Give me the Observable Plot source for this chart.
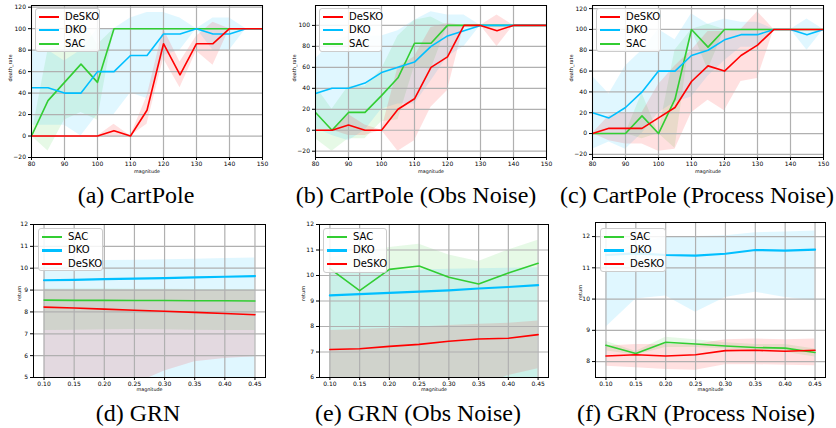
<!DOCTYPE html>
<html>
<head>
<meta charset="utf-8">
<script src="https://cdn.jsdelivr.net/npm/d3@7"></script>
<script src="https://cdn.jsdelivr.net/npm/@observablehq/plot@0.6"></script>
<style>
  body { margin: 0; background: #fff; }
  #fig { position: relative; width: 836px; height: 428px; overflow: hidden; font-family: "DejaVu Sans", sans-serif; background: #fff; }
  .panel { position: absolute; }
  .cap { position: absolute; font-family: "Liberation Serif", "Times New Roman", serif; font-size: 24px; line-height: 24px; white-space: nowrap; transform: translateX(-50%); color: #000; }
  .legend { position: absolute; background: rgba(255,255,255,0.85); border: 1px solid #cccccc; border-radius: 3px; box-sizing: border-box; }
  .lrow { position: absolute; left: 0; height: 12px; width: 100%; }
  .lline { position: absolute; left: 3px; width: 20px; top: 5px; }
  .ltext { position: absolute; left: 29px; top: 0; font-size: 10px; line-height: 12px; color: #000; white-space: nowrap; }
</style>
</head>
<body>
<div id="fig"></div>
<script>
// ---------------- data ----------------
const seriesNames = ["SAC", "DKO", "DeSKO"];
const seriesColors = ["#32cd32", "#00bfff", "#ff0000"];

// CartPole magnitudes
const mag = [80, 85, 90, 95, 100, 105, 110, 115, 120, 125, 130, 135, 140, 145, 150];
const cartTicksX = [80, 90, 100, 110, 120, 130, 140, 150];

// (a) CartPole  (mean, std)
const a_sac      = [0, 33, 50, 67, 50, 100, 100, 100, 100, 100, 100, 100, 100, 100, 100];
const a_sac_sd   = [0, 47, 35, 45, 35, 0, 0, 0, 0, 0, 0, 0, 0, 0, 0];
const a_dko      = [45, 45, 40, 40, 60, 60, 75, 75, 95, 95, 100, 95, 95, 100, 100];
const a_dko_sd   = [35, 35, 30, 40, 40, 40, 35, 40, 20, 15, 0, 15, 15, 0, 0];
const a_desko    = [0, 0, 0, 0, 0, 5, 0, 24, 86, 57, 86, 86, 100, 100, 100];
const a_desko_sd = [0, 0, 0, 0, 0, 6, 0, 13, 14, 12, 7, 20, 0, 0, 0];

// (b) CartPole (Obs Noise)
const b_sac      = [17, 0, 17, 17, 33, 50, 83, 83, 100, 100, 100, 100, 100, 100, 100];
const b_sac_sd   = [25, 20, 25, 25, 25, 40, 22, 25, 0, 0, 0, 0, 0, 0, 0];
const b_dko      = [35, 40, 40, 45, 55, 60, 65, 80, 90, 95, 100, 100, 100, 100, 100];
const b_dko_sd   = [33, 45, 50, 45, 35, 35, 40, 33, 20, 15, 0, 0, 0, 0, 0];
const b_desko    = [0, 0, 5, 0, 0, 20, 30, 60, 70, 100, 100, 95, 100, 100, 100];
const b_desko_sd = [0, 0, 10, 5, 0, 40, 40, 38, 32, 0, 0, 15, 0, 0, 0];

// (c) CartPole (Process Noise)
const c_sac      = [0, 0, 0, 17, 0, 33, 100, 83, 100, 100, 100, 100, 100, 100, 100];
const c_sac_sd   = [0, 0, 0, 22, 0, 47, 0, 22, 0, 0, 0, 0, 0, 0, 0];
const c_dko      = [20, 15, 25, 40, 60, 60, 75, 80, 90, 95, 95, 100, 100, 95, 100];
const c_dko_sd   = [35, 23, 40, 40, 40, 30, 40, 25, 20, 12, 12, 0, 0, 15, 0];
const c_desko    = [0, 5, 5, 5, 15, 25, 50, 65, 60, 75, 85, 100, 100, 100, 100];
const c_desko_sd = [0, 12, 15, 15, 32, 40, 30, 33, 38, 25, 32, 0, 0, 0, 0];

// GRN magnitudes
const magGRN = [0.10, 0.15, 0.20, 0.25, 0.30, 0.35, 0.40, 0.45];

// (d) GRN  (mean, low, high)
const d_sac      = [8.54, 8.53, 8.53, 8.52, 8.52, 8.51, 8.51, 8.50];
const d_sac_lo   = [7.15, 7.16, 7.18, 7.20, 7.18, 7.16, 7.15, 7.15];
const d_sac_hi   = [9.05, 9.05, 9.05, 9.04, 9.04, 9.03, 9.03, 9.03];
const d_dko      = [9.45, 9.47, 9.50, 9.52, 9.55, 9.58, 9.61, 9.64];
const d_dko_lo   = [4.5, 4.5, 4.5, 4.5, 4.5, 4.5, 4.5, 4.5];
const d_dko_hi   = [10.29, 10.32, 10.35, 10.37, 10.39, 10.41, 10.44, 10.47];
const d_desko    = [8.22, 8.18, 8.13, 8.08, 8.03, 7.98, 7.93, 7.87];
const d_desko_lo = [4.0, 4.2, 4.4, 4.7, 5.3, 5.72, 5.87, 5.95];
const d_desko_hi = [9.03, 9.02, 9.02, 9.01, 9.01, 9.00, 9.00, 9.00];

// (e) GRN (Obs Noise)
const e_sac      = [10.27, 9.41, 10.24, 10.37, 9.93, 9.67, 10.10, 10.48];
const e_sac_lo   = [5.5, 5.5, 5.5, 5.5, 5.5, 5.5, 5.5, 5.5];
const e_sac_hi   = [10.70, 10.90, 11.10, 11.23, 10.80, 10.55, 11.00, 11.38];
const e_dko      = [9.22, 9.27, 9.32, 9.37, 9.42, 9.49, 9.55, 9.62];
const e_dko_lo   = [5.5, 5.5, 5.5, 5.5, 5.5, 5.5, 5.5, 5.5];
const e_dko_hi   = [10.15, 10.17, 10.20, 10.22, 10.25, 10.26, 10.28, 10.30];
const e_desko    = [7.10, 7.13, 7.22, 7.30, 7.42, 7.51, 7.54, 7.68];
const e_desko_lo = [5.4, 5.45, 5.5, 5.55, 5.58, 5.6, 6.08, 6.34];
const e_desko_hi = [7.84, 7.88, 7.93, 7.98, 8.04, 8.09, 8.13, 8.22];

// (f) GRN (Process Noise)
const f_sac      = [8.52, 8.26, 8.62, 8.56, 8.50, 8.45, 8.43, 8.29];
const f_sac_lo   = [8.35, 8.20, 8.45, 8.45, 8.40, 8.35, 8.30, 8.15];
const f_sac_hi   = [8.65, 8.32, 8.78, 8.70, 8.60, 8.55, 8.55, 8.40];
const f_dko      = [11.41, 11.46, 11.41, 11.39, 11.45, 11.57, 11.55, 11.58];
const f_dko_lo   = [9.10, 10.00, 10.10, 9.58, 10.05, 10.22, 10.05, 9.95];
const f_dko_hi   = [11.45, 11.75, 12.00, 12.00, 12.03, 12.12, 12.15, 12.18];
const f_desko    = [8.18, 8.22, 8.18, 8.22, 8.35, 8.36, 8.33, 8.36];
const f_desko_lo = [7.85, 7.80, 7.75, 7.72, 7.90, 7.90, 7.88, 7.87];
const f_desko_hi = [8.50, 8.55, 8.55, 8.55, 8.70, 8.72, 8.70, 8.72];

const captions = [
  "(a) CartPole", "(b) CartPole (Obs Noise)", "(c) CartPole (Process Noise)",
  "(d) GRN", "(e) GRN (Obs Noise)", "(f) GRN (Process Noise)"
];

// ---------------- helpers ----------------
const sdSeries = (name, mean, sd) => ({name, mean, lo: mean.map((m, i) => m - sd[i]), hi: mean.map((m, i) => m + sd[i])});
const bandSeries = (name, mean, lo, hi) => ({name, mean, lo, hi});

const panels = [
  { left: 0, top: 0, w: 270, h: 180, ml: 31, mr: 8, mt: 5, mb: 23, x: mag, xDomain: [80, 150], xTicks: cartTicksX, xFormat: d3.format("d"),
    yDomain: [-20, 121.6], yTicks: [-20, 0, 20, 40, 60, 80, 100, 120], ylabel: "death_rate", ylabDx: -21, xlabDy: 15,
    series: [sdSeries("SAC", a_sac, a_sac_sd), sdSeries("DKO", a_dko, a_dko_sd), sdSeries("DeSKO", a_desko, a_desko_sd)],
    legend: {left: 35, top: 8, w: 65, h: 44, order: ["DeSKO", "DKO", "SAC"]}, dkoW: 1.6 },
  { left: 280, top: 0, w: 270, h: 180, ml: 35, mr: 4, mt: 5, mb: 23, x: mag, xDomain: [80, 150], xTicks: cartTicksX, xFormat: d3.format("d"),
    yDomain: [-26, 119], yTicks: [-20, 0, 20, 40, 60, 80, 100], ylabel: "death_rate", ylabDx: -21, xlabDy: 15,
    series: [sdSeries("SAC", b_sac, b_sac_sd), sdSeries("DKO", b_dko, b_dko_sd), sdSeries("DeSKO", b_desko, b_desko_sd)],
    legend: {left: 319, top: 8, w: 63, h: 44, order: ["DeSKO", "DKO", "SAC"]}, dkoW: 1.6 },
  { left: 556, top: 0, w: 280, h: 180, ml: 36, mr: 13, mt: 5, mb: 23, x: mag, xDomain: [80, 150], xTicks: cartTicksX, xFormat: d3.format("d"),
    yDomain: [-23, 123], yTicks: [-20, 0, 20, 40, 60, 80, 100, 120], ylabel: "death_rate", ylabDx: -21, xlabDy: 15,
    series: [sdSeries("SAC", c_sac, c_sac_sd), sdSeries("DKO", c_dko, c_dko_sd), sdSeries("DeSKO", c_desko, c_desko_sd)],
    legend: {left: 596, top: 8, w: 65, h: 44, order: ["DeSKO", "DKO", "SAC"]}, dkoW: 1.6 },
  { left: 0, top: 215, w: 275, h: 180, ml: 33, mr: 10, mt: 9, mb: 18, x: magGRN, xDomain: [0.0825, 0.4675], xTicks: magGRN, xFormat: d3.format(".2f"),
    yDomain: [5, 12], yTicks: [5, 6, 7, 8, 9, 10, 11, 12], ylabel: "return", ylabDx: -14, xlabDy: 13.5,
    series: [bandSeries("SAC", d_sac, d_sac_lo, d_sac_hi), bandSeries("DKO", d_dko, d_dko_lo, d_dko_hi), bandSeries("DeSKO", d_desko, d_desko_lo, d_desko_hi)],
    legend: {left: 38, top: 228, w: 65, h: 43, order: ["SAC", "DKO", "DeSKO"]}, dkoW: 2.2 },
  { left: 280, top: 215, w: 275, h: 180, ml: 39, mr: 7, mt: 9, mb: 18, x: magGRN, xDomain: [0.0825, 0.4675], xTicks: magGRN, xFormat: d3.format(".2f"),
    yDomain: [6, 12], yTicks: [6, 7, 8, 9, 10, 11, 12], ylabel: "return", ylabDx: -16, xlabDy: 13.5,
    series: [bandSeries("SAC", e_sac, e_sac_lo, e_sac_hi), bandSeries("DKO", e_dko, e_dko_lo, e_dko_hi), bandSeries("DeSKO", e_desko, e_desko_lo, e_desko_hi)],
    legend: {left: 323, top: 228, w: 64, h: 45, order: ["SAC", "DKO", "DeSKO"]}, dkoW: 2.2 },
  { left: 556, top: 215, w: 280, h: 180, ml: 39, mr: 11, mt: 7, mb: 18, x: magGRN, xDomain: [0.0825, 0.4675], xTicks: magGRN, xFormat: d3.format(".2f"),
    yDomain: [7.49, 12.45], yTicks: [8, 9, 10, 11, 12], ylabel: "return", ylabDx: -15, xlabDy: 13.5,
    series: [bandSeries("SAC", f_sac, f_sac_lo, f_sac_hi), bandSeries("DKO", f_dko, f_dko_lo, f_dko_hi), bandSeries("DeSKO", f_desko, f_desko_lo, f_desko_hi)],
    legend: {left: 600, top: 228, w: 66, h: 44, order: ["SAC", "DKO", "DeSKO"]}, dkoW: 2.2 }
];

const colorOf = name => seriesColors[seriesNames.indexOf(name)];
const fig = document.getElementById("fig");
const yFmt = d3.format("d");

panels.forEach(p => {
  const rows = [];
  p.series.forEach(s => s.mean.forEach((m, i) => rows.push({x: p.x[i], series: s.name, mean: m, lo: s.lo[i], hi: s.hi[i]})));
  const lineMarks = seriesNames.map(name =>
    Plot.lineY(rows.filter(r => r.series === name), {x: "x", y: "mean", stroke: "series", strokeWidth: name === "DKO" ? p.dkoW : 1.6, clip: true})
  );
  const svg = Plot.plot({
    width: p.w, height: p.h,
    marginLeft: p.ml, marginRight: p.mr, marginTop: p.mt, marginBottom: p.mb,
    style: {fontFamily: "'DejaVu Sans', sans-serif", fontSize: "6px", color: "#000", background: "transparent", overflow: "visible"},
    x: {domain: p.xDomain, ticks: p.xTicks, tickFormat: p.xFormat, label: null, tickSize: 3, tickPadding: 1},
    y: {domain: p.yDomain, ticks: p.yTicks, tickFormat: d => (d < 0 ? "\u2212" + yFmt(-d) : yFmt(d)), label: null, tickSize: 3, tickPadding: 2.5},
    color: {domain: seriesNames, range: seriesColors},
    marks: [
      Plot.areaY(rows, {x: "x", y1: "lo", y2: "hi", z: "series", fill: "series", fillOpacity: 0.12, clip: true}),
      Plot.ruleX(p.xTicks, {stroke: "#b0b0b0", strokeWidth: 1.2}),
      Plot.ruleY(p.yTicks, {stroke: "#b0b0b0", strokeWidth: 1.2}),
      ...lineMarks,
      Plot.frame({stroke: "#000", strokeWidth: 1}),
      Plot.text(["magnitude"], {frameAnchor: "bottom", dy: p.xlabDy, fontSize: 4.8}),
      Plot.text([p.ylabel], {frameAnchor: "left", dx: p.ylabDx, rotate: -90, fontSize: 5})
    ]
  });
  const wrap = document.createElement("div");
  wrap.className = "panel";
  wrap.style.left = p.left + "px";
  wrap.style.top = p.top + "px";
  wrap.appendChild(svg);
  fig.appendChild(wrap);

  // legend
  const lg = document.createElement("div");
  lg.className = "legend";
  lg.style.left = p.legend.left + "px";
  lg.style.top = p.legend.top + "px";
  lg.style.width = p.legend.w + "px";
  lg.style.height = p.legend.h + "px";
  p.legend.order.forEach((name, i) => {
    const row = document.createElement("div");
    row.className = "lrow";
    row.style.top = (2 + 13.4 * i) + "px";
    const ln = document.createElement("div");
    ln.className = "lline";
    const lw = name === "DKO" ? p.dkoW + 0.4 : 2;
    ln.style.height = lw + "px";
    ln.style.top = (6 - lw / 2) + "px";
    ln.style.background = colorOf(name);
    const tx = document.createElement("div");
    tx.className = "ltext";
    tx.textContent = name;
    row.appendChild(ln);
    row.appendChild(tx);
    lg.appendChild(row);
  });
  fig.appendChild(lg);
});

// captions
const capPos = [[136, 183], [416, 183], [697, 183], [138, 401], [418, 401], [696, 401]];
captions.forEach((c, i) => {
  const d = document.createElement("div");
  d.className = "cap";
  d.style.left = capPos[i][0] + "px";
  d.style.top = capPos[i][1] + "px";
  d.textContent = c;
  fig.appendChild(d);
});
</script>
</body>
</html>
